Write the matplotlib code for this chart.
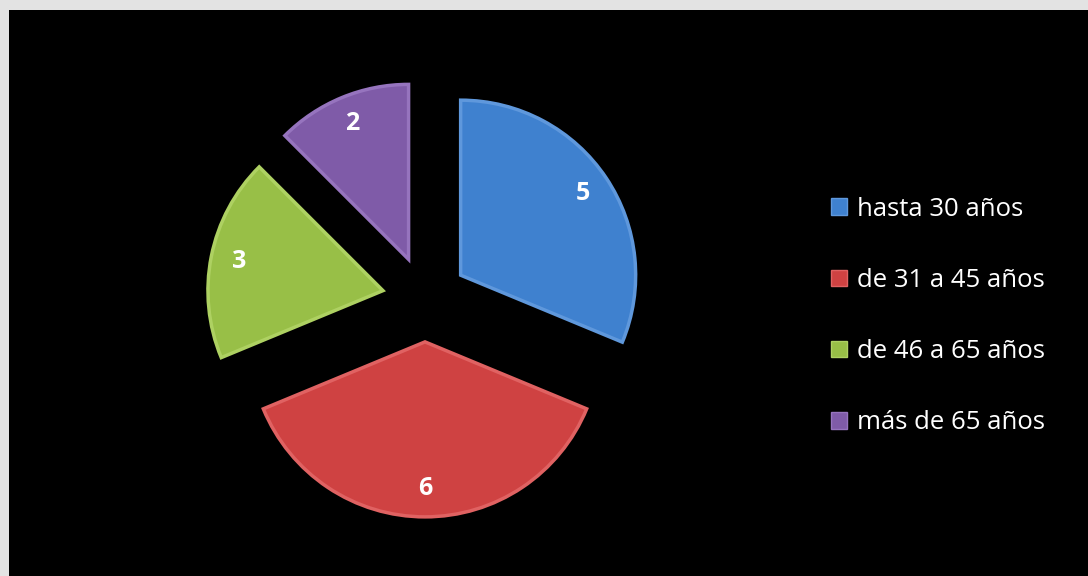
import matplotlib
matplotlib.use("Agg")
import matplotlib.pyplot as plt
from matplotlib.patches import Patch, Rectangle

categories = ["hasta 30 años", "de 31 a 45 años", "de 46 a 65 años", "más de 65 años"]
values = [5, 6, 3, 2]
colors = ["#3f81cf", "#cf4242", "#98bf47", "#7f5ba8"]
edge_colors = ["#5f98dc", "#e06262", "#aed162", "#9674be"]

W, H = 1088, 576
RADIUS = 175
fig = plt.figure(figsize=(W / 100, H / 100), dpi=100, facecolor="#e3e3e3")
# black chart area
fig.patches.append(Rectangle((9 / W, 0), 1 - 9 / W, 1 - 10 / H, transform=fig.transFigure,
                             facecolor="black", edgecolor="none", zorder=-5))

ax = fig.add_axes([0, 0, 1, 1])
ax.set_facecolor("none")
ax.set_zorder(2)
wedges, texts, autotexts = ax.pie(
    values,
    center=(425, H - 299),
    radius=RADIUS,
    startangle=90,
    counterclock=False,
    explode=[0.245 * RADIUS] * len(values),
    colors=colors,
    autopct=lambda p: f"{round(p * sum(values) / 100):d}",
    pctdistance=0.84,
    wedgeprops=dict(linewidth=2.5),
    textprops=dict(color="white", fontsize=18, fontweight="bold", family=["Open Sans", "DejaVu Sans"]),
)
for w, ec in zip(wedges, edge_colors):
    w.set_edgecolor(ec)
    w.set_joinstyle("miter")
ax.set_xlim(0, W)
ax.set_ylim(0, H)
ax.set_aspect("equal")
ax.axis("off")

handles = [Patch(facecolor=c, edgecolor=ec, linewidth=1) for c, ec in zip(colors, edge_colors)]
leg = fig.legend(handles, categories, loc="center left",
                 bbox_to_anchor=(818 / W, 1 - 316 / H),
                 frameon=False, labelcolor="white",
                 prop=dict(family=["Open Sans", "DejaVu Sans"], size=18.5),
                 handlelength=0.62, handleheight=0.62, handletextpad=0.4,
                 labelspacing=1.80, borderpad=0)
leg.set_zorder(3)

fig.savefig("out.png", dpi=100, facecolor=fig.get_facecolor())
